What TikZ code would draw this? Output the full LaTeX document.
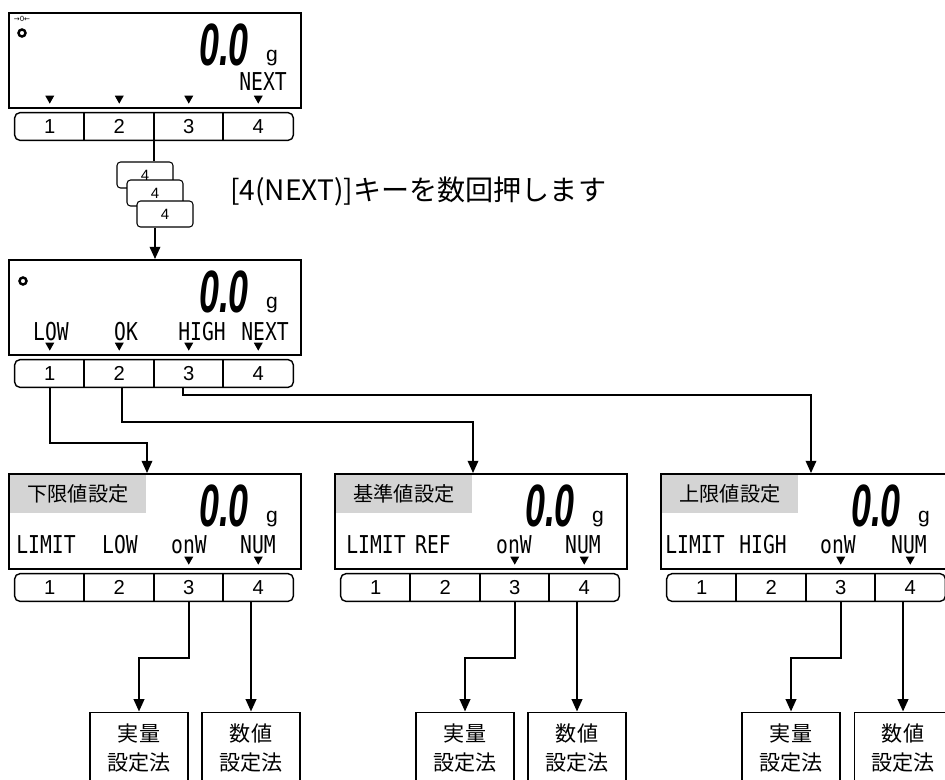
\documentclass[tikz,border=0pt]{standalone}
\usepackage{fontspec}
\setmainfont{Liberation Sans}
\newfontfamily\jafont{Noto Sans CJK JP}
\newfontfamily\segfont{Liberation Sans}[FakeStretch=0.6]
\newfontfamily\lcdfont{DejaVu Sans Mono}[FakeStretch=0.8]
\newfontfamily\symfont{DejaVu Sans}
\usetikzlibrary{arrows.meta, calc}

\begin{document}
\begin{tikzpicture}[x=0.02cm, y=-0.02cm,
  disp/.style={draw, line width=1.1pt, minimum width=5.84cm, minimum height=1.9cm, inner sep=0},
  key/.style={inner sep=0, minimum width=1.39cm, minimum height=0.54cm, font=\fontsize{11.5}{11.5}\selectfont},
  keyrow/.style={line width=0.8pt, rounded corners=3pt},
  keysep/.style={line width=1.3pt},
  big/.style={inner sep=0, font=\segfont\bfseries\itshape\fontsize{34}{34}\selectfont},
  unit/.style={inner sep=0, font=\fontsize{12}{12}\selectfont},
  lcd/.style={inner sep=0, font=\lcdfont\fontsize{14}{14}\selectfont},
  tag/.style={fill=black!17, minimum width=2.72cm, minimum height=0.78cm, inner sep=0, font=\jafont\fontsize{11.5}{11.5}\selectfont},
  ring/.style={circle, draw, line width=1.4pt, minimum size=0.14cm, inner sep=0},
  stack/.style={draw, fill=white, line width=0.6pt, rounded corners=2pt, minimum width=1.12cm, minimum height=0.52cm, inner sep=0, font=\fontsize{8.5}{8.5}\selectfont},
  method/.style={draw, line width=0.6pt, minimum width=1.96cm, minimum height=1.44cm, align=center, font=\jafont\fontsize{12}{17}\selectfont},
  conn/.style={line width=1.1pt},
  arr/.style={conn, -{Triangle[length=7pt, width=6pt]}}]

\useasboundingbox (0,0) rectangle (945,779);
\clip (0,0) rectangle (945,779);

\node[tag] (d3-tag) at (78,493.5) {下限値設定};
\node[tag] (d4-tag) at (404,493.5) {基準値設定};
\node[tag] (d5-tag) at (730,493.5) {上限値設定};

\foreach \dsp/\x/\y in {d1/9/13, d2/9/260, d3/9/474, d4/335/474, d5/661/474} {
  \node[disp] (\dsp) at (\x+146,\y+47.5) {};
  \node[big] (\dsp-val) at (\x+215,\y+32) {0.0};
  \node[unit] (\dsp-g) at (\x+263,\y+45) {g};
  \foreach \k in {1,...,4}
    \node[key] (\dsp-k\k) at ({\x+6+69.5*(\k-0.5)},\y+113.5) {\k};
  \draw[keyrow] (\dsp-k1.north west) rectangle (\dsp-k4.south east);
  \draw[keysep] (\dsp-k2.north west) -- (\dsp-k2.south west)
                (\dsp-k3.north west) -- (\dsp-k3.south west)
                (\dsp-k4.north west) -- (\dsp-k4.south west);
}

\foreach \dsp/\k in {d1/1, d1/2, d1/3, d1/4, d2/1, d2/2, d2/3, d2/4, d3/3, d3/4, d4/3, d4/4, d5/3, d5/4}
  \fill (\dsp-k\k.north) ++(-4.5,-17) -- ++(9,0) -- ++(-4.5,8) -- cycle;

\node[inner sep=0, font=\symfont\fontsize{4}{4}\selectfont] (d1-zero) at (22,19) {→0←};
\node[ring] (d1-o) at (22,33) {};
\node[lcd] (d1-next) at (263,82) {NEXT};

\node[ring] (d2-o) at (23,281) {};
\node[lcd] (d2-low) at (51,332) {LOW};
\node[lcd] (d2-ok) at (126,332) {OK};
\node[lcd] (d2-high) at (202,332) {HIGH};
\node[lcd] (d2-next) at (265,332) {NEXT};

\node[lcd] (d3-limit) at (46,545) {LIMIT};
\node[lcd] (d3-low) at (120,545) {LOW};
\node[lcd] (d3-onw) at (189,545) {onW};
\node[lcd] (d3-num) at (258,545) {NUM};

\node[lcd] (d4-limit) at (376,545) {LIMIT};
\node[lcd] (d4-ref) at (433,545) {REF};
\node[lcd] (d4-onw) at (514,545) {onW};
\node[lcd] (d4-num) at (583,545) {NUM};

\node[lcd] (d5-limit) at (695,545) {LIMIT};
\node[lcd] (d5-high) at (763,545) {HIGH};
\node[lcd] (d5-onw) at (838,545) {onW};
\node[lcd] (d5-num) at (909,545) {NUM};

\node[stack] (s1) at (145,175) {4};
\node[stack] (s2) at (155,193) {4};
\node[stack] (s3) at (165,214) {4};
\node[anchor=west, inner sep=0, font=\jafont\fontsize{16}{16}\selectfont] (hint) at (230,191) {[4(NEXT)]キーを数回押します};

\draw[conn] (d1-k3.south west) -- (d1-k3.south west |- s1.north);
\draw[arr] (s3.south -| d2.north) -- (d2.north);

\draw[arr] (d2-k1.south) -- ++(0,56) -| ($(d3.north)+(-8,0)$);
\draw[arr] ($(d2-k2.south)+(3,0)$) -- ++(0,35) -| ($(d4.north)+(-8,0)$);
\draw[arr] ($(d2-k3.south)+(-6,0)$) -- ++(0,8) -| ($(d5.north)+(4,0)$);

\foreach \dsp/\x in {d3/9, d4/335, d5/661} {
  \node[method] (\dsp-b1) at (\x+130,748) {実量\\設定法};
  \node[method] (\dsp-b2) at (\x+242,748) {数値\\設定法};
  \draw[arr] (\dsp-k3.south) -- ++(0,57) -| (\dsp-b1.north);
  \draw[arr] (\dsp-b2.north |- \dsp-k4.south) -- (\dsp-b2.north);
}
\end{tikzpicture}
\end{document}
